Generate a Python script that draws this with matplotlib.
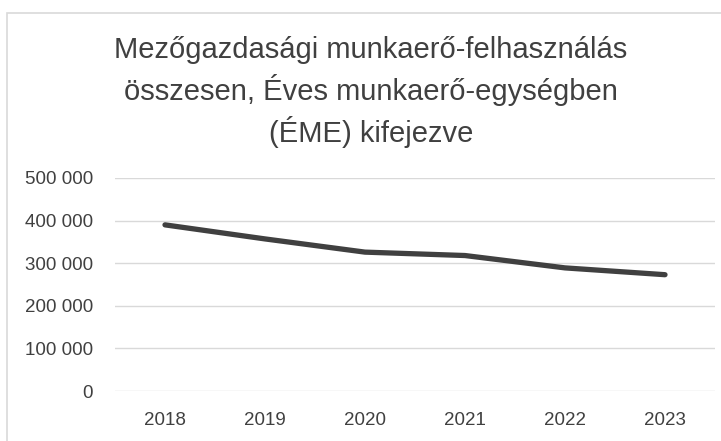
import matplotlib.pyplot as plt
from matplotlib.patches import Rectangle

years = ["2018", "2019", "2020", "2021", "2022", "2023"]
values = [390000, 357000, 326000, 318000, 289000, 273000]
y_ticks = [0, 100000, 200000, 300000, 400000, 500000]
y_labels = ["0", "100 000", "200 000", "300 000", "400 000", "500 000"]

title = "Mezőgazdasági munkaerő-felhasználás\nösszesen, Éves munkaerő-egységben\n(ÉME) kifejezve"

plt.rcParams['font.family'] = ['Liberation Sans', 'DejaVu Sans']

fig = plt.figure(figsize=(7.21, 4.41), dpi=100)
ax = fig.add_axes([115 / 721, 1 - 391 / 441, 600 / 721, (391 - 178) / 441])

# chart border (only top/left visible in the reference)
fig.patches.append(Rectangle((7 / 721, -0.1), 1.2, 1 - 13 / 441 + 0.1,
                             transform=fig.transFigure, fill=False,
                             edgecolor='#d9d9d9', linewidth=1.2))

x = range(len(years))
ax.plot(x, values, color='#404040', linewidth=3.8, solid_capstyle='round')

ax.set_xlim(-0.5, len(years) - 0.5)
ax.set_ylim(0, 500000)
ax.set_yticks(y_ticks)
ax.set_yticklabels(y_labels)
ax.set_xticks(list(x))
ax.set_xticklabels(years)
ax.grid(axis='y', color='#d9d9d9', linewidth=1)
ax.set_axisbelow(True)
for s in ax.spines.values():
    s.set_visible(False)
ax.tick_params(length=0, labelsize=13.5, labelcolor='#404040')
ax.tick_params(axis='y', pad=16)
ax.tick_params(axis='x', pad=15)

fig.text(371 / 721, 1 - 92 / 441, title, ha='center', va='center',
         fontsize=21, color='#404040', linespacing=1.4)

fig.savefig('out.png', dpi=100)
